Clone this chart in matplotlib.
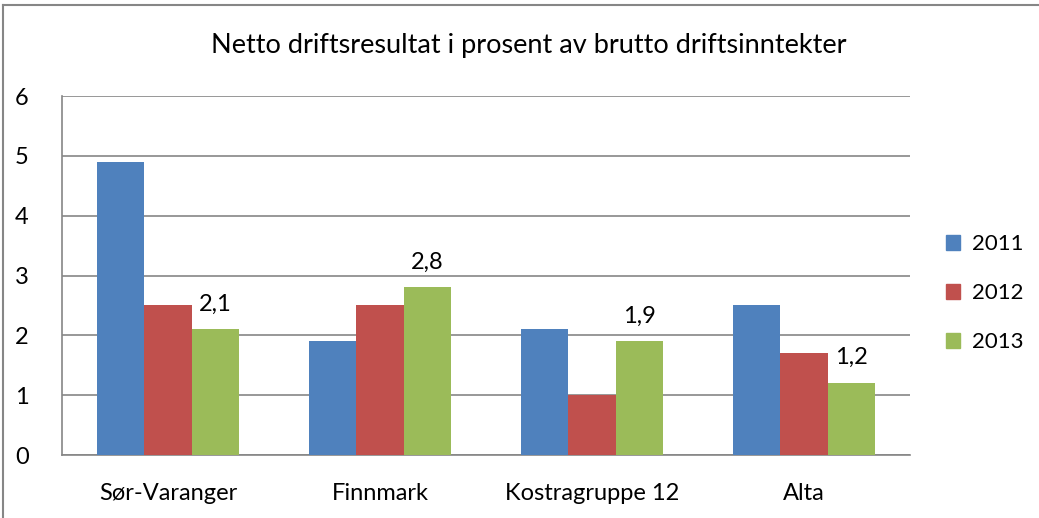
import matplotlib
matplotlib.use("Agg")
import matplotlib.pyplot as plt
from matplotlib.lines import Line2D
import numpy as np

categories = ["Sør-Varanger", "Finnmark", "Kostragruppe 12", "Alta"]
series_names = ["2011", "2012", "2013"]
v2011 = [4.9, 1.9, 2.1, 2.5]
v2012 = [2.5, 2.5, 1.0, 1.7]
v2013 = [2.1, 2.8, 1.9, 1.2]
colors = ["#4F81BD", "#C0504D", "#9BBB59"]
yticks = [0, 1, 2, 3, 4, 5, 6]

plt.rcParams['font.family'] = ['Lato', 'DejaVu Sans']

W, H = 1039, 518
fig = plt.figure(figsize=(W / 100, H / 100), dpi=100)
ax = fig.add_axes([62 / W, 1 - 455 / H, (910 - 62) / W, (455 - 96) / H])

x = np.arange(len(categories))
bw = 0.222
series = [v2011, v2012, v2013]
for i, (vals, c, name) in enumerate(zip(series, colors, series_names)):
    bars = ax.bar(x + (i - 1) * bw, vals, bw, color=c, label=name, zorder=3)
    if name == "2013":
        for b, v in zip(bars, vals):
            ax.text(b.get_x() + b.get_width() / 2, v + 0.25, f"{v:.1f}".replace(".", ","),
                    ha="center", va="bottom", fontsize=17, color="black")

ax.set_xlim(-0.5, len(categories) - 0.5)
ax.set_ylim(0, 6)
ax.set_yticks(yticks)
ax.set_yticklabels([str(t) for t in yticks], fontsize=17)
ax.set_xticks(x)
ax.set_xticklabels(categories, fontsize=17)
ax.tick_params(axis="y", length=0, pad=24)
ax.tick_params(axis="x", length=0, pad=20)
ax.yaxis.grid(True, color="#868686", linewidth=1.2, zorder=0)
for s in ["top", "right"]:
    ax.spines[s].set_visible(False)
for s in ["left", "bottom"]:
    ax.spines[s].set_color("#868686")
    ax.spines[s].set_linewidth(1.2)

fig.text(529 / W, 1 - 46 / H, "Netto driftsresultat i prosent av brutto driftsinntekter",
         ha="center", va="center", fontsize=19.5)

handles = [plt.Rectangle((0, 0), 1, 1, color=c) for c in colors]
leg = fig.legend(handles, series_names, loc="center left", bbox_to_anchor=(946 / W, 1 - 293 / H),
                 frameon=False, fontsize=16, handlelength=0.65, handleheight=0.65,
                 labelspacing=1.3, handletextpad=0.5, borderpad=0, borderaxespad=0)

# outer chart border
fig.add_artist(Line2D([3 / W, 3 / W], [0, 1 - 5 / H], color="#868686", linewidth=1.5, transform=fig.transFigure))
fig.add_artist(Line2D([3 / W, 1], [1 - 5 / H, 1 - 5 / H], color="#868686", linewidth=1.5, transform=fig.transFigure))

fig.savefig("out.png", dpi=100)
